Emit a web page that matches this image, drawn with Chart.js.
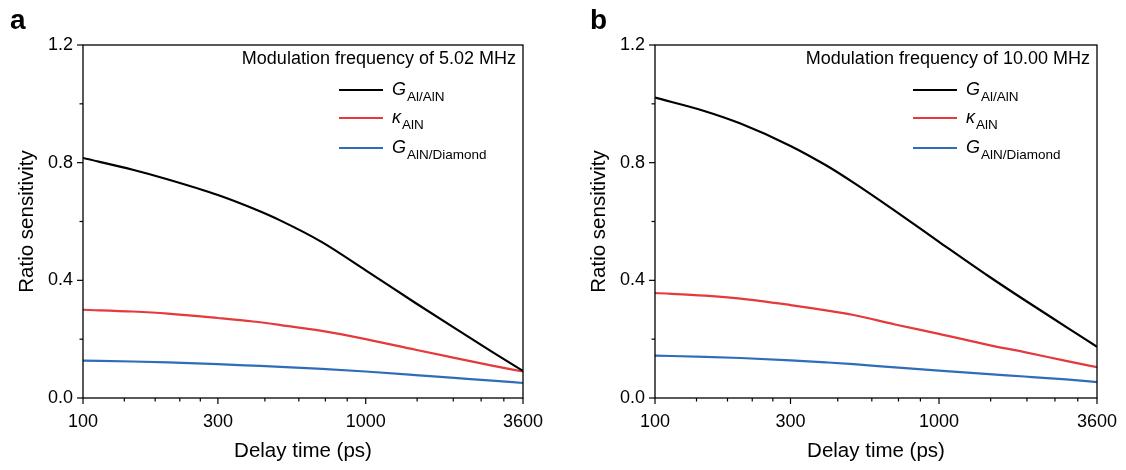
<!DOCTYPE html>
<html>
<head>
<meta charset="utf-8">
<script src="https://cdn.jsdelivr.net/npm/chart.js@4"></script>
<style>
  body { margin: 0; background: #fff; }
  .panel { position: absolute; top: 0; height: 470px; }
  #panelA { left: 0; width: 563px; }
  #panelB { left: 563px; width: 563px; }
</style>
</head>
<body>
<div class="panel" id="panelA"><canvas id="chartA" width="563" height="470"></canvas></div>
<div class="panel" id="panelB"><canvas id="chartB" width="563" height="470"></canvas></div>
<script>
// delay times (ps) and ratio sensitivities
const delayTimes = [100, 150, 200, 300, 400, 500, 700, 1000, 1500, 2000, 2800, 3600];

// panel a, 5.02 MHz
const gAlAlN_a   = [0.816, 0.776, 0.743, 0.690, 0.644, 0.603, 0.530, 0.434, 0.323, 0.246, 0.157, 0.092];
const kAlN_a     = [0.300, 0.294, 0.287, 0.272, 0.260, 0.248, 0.228, 0.200, 0.164, 0.139, 0.110, 0.090];
const gAlNDia_a  = [0.127, 0.124, 0.121, 0.115, 0.110, 0.106, 0.099, 0.090, 0.078, 0.069, 0.059, 0.051];

// panel b, 10.00 MHz
const gAlAlN_b   = [1.021, 0.975, 0.933, 0.857, 0.791, 0.732, 0.636, 0.531, 0.413, 0.333, 0.242, 0.174];
const kAlN_b     = [0.357, 0.348, 0.338, 0.316, 0.298, 0.282, 0.250, 0.218, 0.180, 0.156, 0.126, 0.105];
const gAlNDia_b  = [0.144, 0.140, 0.136, 0.128, 0.121, 0.115, 0.104, 0.093, 0.081, 0.073, 0.063, 0.054];

const xMajorTicks = [100, 300, 1000, 3600];
const yMajorTicks = [0, 0.4, 0.8, 1.2];

const FONT = '"Liberation Sans", Arial, sans-serif';
const BLACK = '#000000';
const RED = '#e5393b';
const BLUE = '#2f6db8';

function toPoints(ys) {
    return delayTimes.map((x, i) => ({ x: x, y: ys[i] }));
}

// frame, minor/major ticks, panel letter and in-plot legend
const decorPlugin = {
    id: 'decor',
    afterDraw(chart, args, opts) {
        const ctx = chart.ctx;
        const area = chart.chartArea;
        const xs = chart.scales.x;
        const ys = chart.scales.y;
        ctx.save();
        ctx.strokeStyle = '#000';
        ctx.lineWidth = 1.3;
        ctx.strokeRect(area.left, area.top, area.right - area.left, area.bottom - area.top);

        // x ticks: 5 linear steps between the labelled values
        ctx.lineWidth = 1.2;
        for (let i = 0; i < xMajorTicks.length; i++) {
            const v = xMajorTicks[i];
            const px = xs.getPixelForValue(v);
            ctx.beginPath(); ctx.moveTo(px, area.bottom); ctx.lineTo(px, area.bottom + 6); ctx.stroke();
            if (i < xMajorTicks.length - 1) {
                const step = (xMajorTicks[i + 1] - v) / 5;
                for (let k = 1; k < 5; k++) {
                    const mx = xs.getPixelForValue(v + k * step);
                    ctx.beginPath(); ctx.moveTo(mx, area.bottom); ctx.lineTo(mx, area.bottom + 3.5); ctx.stroke();
                }
            }
        }
        // y ticks
        for (let i = 0; i < yMajorTicks.length; i++) {
            const py = ys.getPixelForValue(yMajorTicks[i]);
            ctx.beginPath(); ctx.moveTo(area.left, py); ctx.lineTo(area.left - 6, py); ctx.stroke();
            if (i < yMajorTicks.length - 1) {
                const my = ys.getPixelForValue((yMajorTicks[i] + yMajorTicks[i + 1]) / 2);
                ctx.beginPath(); ctx.moveTo(area.left, my); ctx.lineTo(area.left - 3.5, my); ctx.stroke();
            }
        }

        // panel letter
        ctx.fillStyle = '#000';
        ctx.font = 'bold 28px ' + FONT;
        ctx.textAlign = 'left';
        ctx.textBaseline = 'alphabetic';
        ctx.fillText(opts.letter, opts.letterX, 29);

        // legend header
        ctx.font = '18px ' + FONT;
        ctx.textAlign = 'right';
        ctx.textBaseline = 'middle';
        ctx.fillText(opts.header, area.right - 7, 59);

        // legend rows
        const rowY = [90, 118, 148];
        const lineX0 = area.right - 184;
        chart.data.datasets.forEach((ds, i) => {
            const y = rowY[i];
            ctx.strokeStyle = ds.borderColor;
            ctx.lineWidth = 2;
            ctx.beginPath(); ctx.moveTo(lineX0, y); ctx.lineTo(lineX0 + 44, y); ctx.stroke();
            ctx.fillStyle = '#000';
            ctx.textAlign = 'left';
            ctx.textBaseline = 'alphabetic';
            ctx.font = 'italic 18px ' + FONT;
            const tx = lineX0 + 53;
            ctx.fillText(ds.symbol, tx, y + 5);
            const w = ctx.measureText(ds.symbol).width;
            ctx.font = '13.5px ' + FONT;
            ctx.fillText(ds.sub, tx + w + 1, y + 11);
        });
        ctx.restore();
    }
};

function makeChart(canvasId, series, yWidth, titlePad, padRight, letter, letterX, header) {
    const ctx = document.getElementById(canvasId).getContext('2d');
    return new Chart(ctx, {
        type: 'line',
        data: {
            datasets: [
                { label: 'G Al/AlN', symbol: 'G', sub: 'Al/AlN', data: toPoints(series[0]), borderColor: BLACK },
                { label: 'κ AlN', symbol: 'κ', sub: 'AlN', data: toPoints(series[1]), borderColor: RED },
                { label: 'G AlN/Diamond', symbol: 'G', sub: 'AlN/Diamond', data: toPoints(series[2]), borderColor: BLUE }
            ].map(d => Object.assign(d, {
                borderWidth: 2.2,
                pointRadius: 0,
                fill: false,
                cubicInterpolationMode: 'monotone'
            }))
        },
        options: {
            responsive: false,
            animation: false,
            layout: { padding: { left: 0, top: 45, right: padRight, bottom: 0 } },
            plugins: {
                legend: { display: false },
                tooltip: { enabled: false },
                decor: { letter: letter, letterX: letterX, header: header }
            },
            scales: {
                x: {
                    type: 'logarithmic',
                    min: 100,
                    max: 3600,
                    grid: { display: false },
                    border: { display: false },
                    afterBuildTicks: s => { s.ticks = xMajorTicks.map(v => ({ value: v })); },
                    afterFit: s => { s.height = 72; },
                    ticks: {
                        color: '#000',
                        font: { family: FONT, size: 18 },
                        padding: 5,
                        maxRotation: 0,
                        autoSkip: false,
                        callback: v => String(v)
                    },
                    title: {
                        display: true,
                        text: 'Delay time (ps)',
                        color: '#000',
                        font: { family: FONT, size: 20.5 },
                        padding: { top: 0, bottom: 6 }
                    }
                },
                y: {
                    min: 0,
                    max: 1.2,
                    grid: { display: false },
                    border: { display: false },
                    afterBuildTicks: s => { s.ticks = yMajorTicks.map(v => ({ value: v })); },
                    afterFit: s => { s.width = yWidth; },
                    ticks: {
                        color: '#000',
                        font: { family: FONT, size: 18 },
                        padding: 2,
                        callback: v => v.toFixed(1)
                    },
                    title: {
                        display: true,
                        text: 'Ratio sensitivity',
                        color: '#000',
                        font: { family: FONT, size: 20.5 },
                        padding: { top: titlePad, bottom: 0 }
                    }
                }
            }
        },
        plugins: [decorPlugin]
    });
}

makeChart('chartA', [gAlAlN_a, kAlN_a, gAlNDia_a], 83, 15, 40, 'a', 10, 'Modulation frequency of 5.02 MHz');
makeChart('chartB', [gAlAlN_b, kAlN_b, gAlNDia_b], 92, 24, 29, 'b', 27, 'Modulation frequency of 10.00 MHz');
</script>
</body>
</html>
